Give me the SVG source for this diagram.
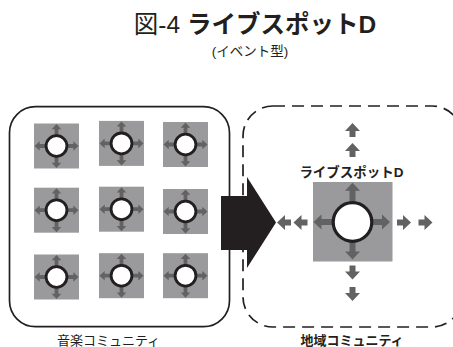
<svg xmlns="http://www.w3.org/2000/svg" xmlns:xlink="http://www.w3.org/1999/xlink" width="453" height="347" viewBox="0 0 453 347">
<style>
text{font-family:"Liberation Sans","Noto Sans CJK JP",sans-serif;fill:#231f20}
.b{font-weight:bold}
.sq{fill:#9a9a9d}
.ar{fill:#626262}
.ring{fill:#fff;stroke:#231f20}
</style>
<defs>
<path id="au" d="M0,-7 L7.5,1 L3,1 L3,7 L-3,7 L-3,1 L-7.5,1 Z"/>
<path id="ai" d="M0,-7 L7.5,1 L3,1 L3,13 L-3,13 L-3,1 L-7.5,1 Z"/>
<path id="sa" d="M0,-22 L4.8,-16.8 L1.9,-16.8 L1.9,-9 L-1.9,-9 L-1.9,-16.8 L-4.8,-16.8 Z"/>
<g id="spot">
<rect class="sq" x="-22.5" y="-22.5" width="45" height="45"/>
<g class="ar">
<use xlink:href="#sa"/>
<use xlink:href="#sa" transform="rotate(90)"/>
<use xlink:href="#sa" transform="rotate(180)"/>
<use xlink:href="#sa" transform="rotate(270)"/>
</g>
<circle class="ring" r="10.4" stroke-width="2.8"/>
</g>
</defs>
<text x="255" y="33" font-size="24.5" text-anchor="middle">図-4 <tspan class="b">ライブスポットD</tspan></text>
<text x="250" y="55.5" font-size="13.5" text-anchor="middle">(イベント型)</text>
<g id="music-community">
<rect x="9.5" y="106.7" width="220" height="220" rx="26" fill="none" stroke="#231f20" stroke-width="1.7"/>
<text x="108.5" y="345" font-size="13" text-anchor="middle">音楽コミュニティ</text>
</g>
<g id="local-community">
<rect x="243" y="106" width="219" height="221" rx="30" fill="none" stroke="#231f20" stroke-width="1.7" stroke-dasharray="12 7"/>
<text x="352" y="345" font-size="13" text-anchor="middle" class="b">地域コミュニティ</text>
</g>
<g id="s11"><use xlink:href="#spot" transform="translate(56.5,146)"/></g>
<g id="s12"><use xlink:href="#spot" transform="translate(121.5,143.4)"/></g>
<g id="s13"><use xlink:href="#spot" transform="translate(185.5,144.5)"/></g>
<g id="s21"><use xlink:href="#spot" transform="translate(56.5,210.2)"/></g>
<g id="s22"><use xlink:href="#spot" transform="translate(121.5,209.2)"/></g>
<g id="s23"><use xlink:href="#spot" transform="translate(185.5,211.5)"/></g>
<g id="s31"><use xlink:href="#spot" transform="translate(56.5,277)"/></g>
<g id="s32"><use xlink:href="#spot" transform="translate(121.5,275.7)"/></g>
<g id="s33"><use xlink:href="#spot" transform="translate(185.5,275.7)"/></g>
<g id="connectors">
<path d="M221,196 H247 V177 L276,222.5 L247,268 V250 H221 Z" fill="#231f20"/>
<g class="ar">
<use xlink:href="#au" transform="translate(352.5,130)"/>
<use xlink:href="#au" transform="translate(352.5,150)"/>
<use xlink:href="#au" transform="translate(352.5,272.5) rotate(180)"/>
<use xlink:href="#au" transform="translate(352.5,294) rotate(180)"/>
<use xlink:href="#au" transform="translate(284,222.5) rotate(-90)"/>
<use xlink:href="#au" transform="translate(300.5,222.5) rotate(-90)"/>
<use xlink:href="#au" transform="translate(404,222.5) rotate(90)"/>
<use xlink:href="#au" transform="translate(425.5,222.5) rotate(90)"/>
</g>
</g>
<g id="live-spot-d">
<text x="351.5" y="177" font-size="13.5" text-anchor="middle" class="b">ライブスポットD</text>
<rect class="sq" x="313" y="182" width="79.5" height="79.5"/>
<g class="ar">
<use xlink:href="#ai" transform="translate(352.5,189.7)"/>
<use xlink:href="#ai" transform="translate(352.5,252.5) rotate(180)"/>
<use xlink:href="#ai" transform="translate(320.5,222) rotate(-90)"/>
<use xlink:href="#ai" transform="translate(383,222) rotate(90)"/>
</g>
<circle class="ring" cx="352.5" cy="222" r="19.3" stroke-width="3.2"/>
</g>
</svg>
